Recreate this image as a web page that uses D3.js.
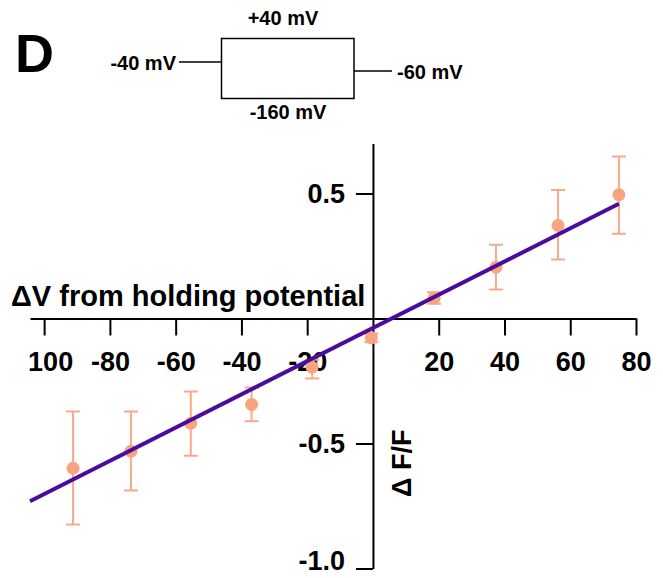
<!DOCTYPE html>
<html>
<head>
<meta charset="utf-8">
<script src="https://cdn.jsdelivr.net/npm/d3@7"></script>
<style>
  body { margin: 0; background: #fff; }
  svg { display: block; font-family: "Liberation Sans", Arial, sans-serif; }
</style>
</head>
<body>
<svg id="chart" width="663" height="578"></svg>
<script>
// data
const voltage = [-91.2, -73.6, -55.4, -36.9, -18.5, -0.5, 18.6, 37.4, 56.3, 74.8];
const dff     = [-0.599, -0.531, -0.419, -0.344, -0.195, -0.077, 0.081, 0.205, 0.372, 0.495];
const errHi   = [-0.372, -0.372, -0.292, -0.276, -0.165, -0.060, 0.105, 0.295, 0.514, 0.648];
const errLo   = [-0.824, -0.688, -0.549, -0.411, -0.240, -0.095, 0.059, 0.116, 0.236, 0.339];
const fitX = [-104.3, 74.8];
const fitY = [-0.731, 0.459];
const xTicks = [-100, -80, -60, -40, -20, 20, 40, 60, 80];
const xTickLabels = ["100", "-80", "-60", "-40", "-20", "20", "40", "60", "80"];
const yTicks = [0.5, -0.5, -1.0];
const yTickLabels = ["0.5", "-0.5", "-1.0"];
const protocol = { hold: "-40 mV", step1: "+40 mV", step2: "-160 mV", post: "-60 mV" };

const svg = d3.select("#chart");

// scales
const x = d3.scaleLinear().domain([-104.3, 80]).range([30, 636]);
const y = d3.scaleLinear().domain([-1.0, 0.7]).range([568.5, 143.5]);

const orange = "#f8a47f";
const errCol = "#f6a98b";
const purple = "#4a0c9e";

// panel letter and protocol sketch
svg.append("text").attr("x", 15).attr("y", 72)
  .attr("font-size", 54).attr("font-weight", "bold").text("D");

const proto = svg.append("g").attr("stroke", "#000").attr("stroke-width", 1.5).attr("fill", "none");
proto.append("rect").attr("x", 221.5).attr("y", 38.5).attr("width", 132.5).attr("height", 60);
proto.append("line").attr("x1", 179).attr("x2", 221.5).attr("y1", 62).attr("y2", 62);
proto.append("line").attr("x1", 354).attr("x2", 392).attr("y1", 71).attr("y2", 71);

const ptxt = svg.append("g").attr("font-size", 20).attr("font-weight", "bold");
ptxt.append("text").attr("x", 283).attr("y", 25).attr("text-anchor", "middle").text(protocol.step1);
ptxt.append("text").attr("x", 288).attr("y", 119).attr("text-anchor", "middle").text(protocol.step2);
ptxt.append("text").attr("x", 176).attr("y", 70).attr("text-anchor", "end").text(protocol.hold);
ptxt.append("text").attr("x", 397).attr("y", 79).text(protocol.post);

// axes
const xAxis = d3.axisBottom(x).tickValues(xTicks)
  .tickFormat((d, i) => xTickLabels[i]).tickSize(17).tickSizeOuter(0).tickPadding(16);
const gx = svg.append("g").attr("transform", `translate(0,${y(0)})`).call(xAxis);

const yAxis = d3.axisLeft(y).tickValues(yTicks)
  .tickFormat((d, i) => yTickLabels[i]).tickSize(17).tickSizeOuter(0).tickPadding(11);
const gy = svg.append("g").attr("transform", `translate(${x(0)},0)`).call(yAxis);

[gx, gy].forEach(g => {
  g.select(".domain").attr("stroke", "#000").attr("stroke-width", 2);
  g.selectAll(".tick line").attr("stroke", "#000").attr("stroke-width", 2);
  g.selectAll(".tick text").attr("font-size", 27).attr("font-weight", "bold")
    .attr("font-family", "'Liberation Sans', Arial, sans-serif").attr("fill", "#000");
});
gx.selectAll(".tick text").filter((d, i) => i === 0).attr("dx", 6);
// keep the bottom label inside the frame
gy.selectAll(".tick text").filter(d => d === -1.0).attr("dy", "0.02em");

// axis titles
svg.append("text").attr("x", 11).attr("y", 306)
  .attr("font-size", 29).attr("font-weight", "bold").text("ΔV from holding potential");
svg.append("text").attr("transform", "translate(411,497) rotate(-90)")
  .attr("font-size", 27).attr("font-weight", "bold").text("Δ F/F");

// error bars
const pts = voltage.map((v, i) => ({ v, m: dff[i], hi: errHi[i], lo: errLo[i] }));
const eb = svg.append("g").attr("stroke", errCol).attr("stroke-width", 2);
eb.selectAll("line.v").data(pts).join("line").attr("class", "v")
  .attr("x1", d => x(d.v)).attr("x2", d => x(d.v))
  .attr("y1", d => y(d.hi)).attr("y2", d => y(d.lo));
eb.selectAll("line.t").data(pts).join("line").attr("class", "t")
  .attr("x1", d => x(d.v) - 7).attr("x2", d => x(d.v) + 7)
  .attr("y1", d => y(d.hi)).attr("y2", d => y(d.hi));
eb.selectAll("line.b").data(pts).join("line").attr("class", "b")
  .attr("x1", d => x(d.v) - 7).attr("x2", d => x(d.v) + 7)
  .attr("y1", d => y(d.lo)).attr("y2", d => y(d.lo));

// points
svg.append("g").selectAll("circle").data(pts).join("circle")
  .attr("cx", d => x(d.v)).attr("cy", d => y(d.m)).attr("r", 6.5).attr("fill", orange);

// fit line
const line = d3.line().x(d => x(d[0])).y(d => y(d[1]));
svg.append("path").datum(fitX.map((v, i) => [v, fitY[i]]))
  .attr("d", line).attr("fill", "none").attr("stroke", purple).attr("stroke-width", 4);
</script>
</body>
</html>
